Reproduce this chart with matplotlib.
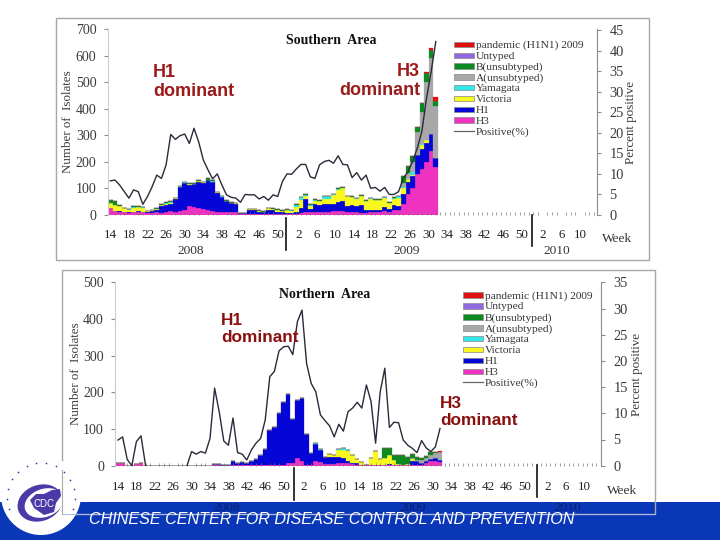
import numpy as np
import matplotlib
matplotlib.use("Agg")
import matplotlib.pyplot as plt
from matplotlib.patches import Rectangle, Circle, Ellipse, Polygon

plt.rcParams['font.family'] = ['Liberation Serif', 'DejaVu Sans']

series_names = ["H3", "H1", "Victoria", "Yamagata", "A(unsubtyped)", "B(unsubtyped)", "Untyped", "pandemic (H1N1) 2009"]
series_colors = ["#f032c0", "#0505d8", "#f8f820", "#30e8e8", "#a8a8a8", "#0c8a20", "#9068e0", "#e01010"]

# Southern area, one value per week from 2008 w14
s_h3 = [25,15,12,12,8,12,12,12,8,8,10,8,10,15,12,15,20,35,30,25,22,20,15,12,10,10,10,10,3,3,5,4,3,3,3,3,3,3,3,3,3,
        8,12,12,12,12,12,12,14,15,14,10,10,10,8,8,10,10,12,15,12,18,20,40,80,100,155,175,200,240,182]
s_h1 = [0,0,2,1,2,1,2,1,4,6,10,25,28,28,48,90,100,78,85,100,100,110,110,72,58,42,35,33,3,3,15,15,10,8,16,14,10,7,5,5,8,
        20,50,10,30,25,30,28,28,35,38,25,28,22,28,12,10,10,8,14,12,18,15,38,45,45,70,75,70,65,33]
s_vic = [22,22,18,12,10,15,15,15,2,3,2,3,4,4,3,2,2,3,2,2,1,2,1,1,1,1,1,1,0,0,2,2,3,2,6,5,5,5,10,8,18,
         28,10,12,12,15,20,22,32,45,48,35,30,30,36,32,42,38,38,36,22,26,30,25,10,5,0,15,12,0,0]
s_yam = [0,2,2,1,1,2,1,1,1,1,2,2,3,2,1,1,1,1,1,1,1,1,1,1,1,1,1,1,0,0,1,1,0,0,1,1,1,1,1,1,8,
         10,4,4,3,2,8,8,4,3,3,1,1,1,1,1,1,0,0,1,1,3,5,2,2,10,2,2,2,0,0]
s_a = [0]*63 + [15,20,40,85,120,215,285,195]
s_b = [8,13,2,1,1,2,2,1,1,2,3,3,5,3,1,2,3,4,2,2,2,5,3,1,2,1,1,1,0,0,1,1,2,1,2,2,2,1,2,1,3,
       3,2,2,3,2,2,2,2,2,2,1,2,2,2,2,2,2,2,2,3,3,3,25,28,22,18,33,35,30,20]
s_unt = [0]*71
s_pan = [0]*68 + [6,10,15]
s_pos = [8.3,8.5,7.3,5.7,4.1,6.1,5.7,2.6,4.5,6.9,9.7,8.9,12.2,19.6,18.4,19.3,19.7,17.4,21.1,17.8,13.4,11,8.8,10,7.3,4.9,4.3,4.1,
         3.1,5.0,4.9,4.9,3.9,4.5,3.6,4.9,4.5,8.1,10,9.9,11.2,12.3,12.3,9.3,8.9,12.2,13,13.3,12.6,14.4,12.3,12.2,9.1,10.3,8.5,9.7,
         6.5,6.7,5.8,6.7,5,5,5.7,8.9,10.5,13,16.2,20.3,28.4,34.9,42.2]

# Northern area
n_h3 = [6,7,0,0,5,6,0,0,0,0,0,0,0,0,0,0,0,0,0,0,0,1,1,0,0,1,1,1,1,1,1,1,1,1,1,2,3,8,8,20,14,3,2,14,10,5,4,5,6,8,6,4,3,1,1,
        1,1,1,1,3,2,1,1,1,2,3,3,6,14,14,10]
n_h1 = [0,0,0,0,0,0,0,0,0,0,0,0,0,0,0,0,0,0,0,0,0,4,4,3,2,11,7,8,7,12,17,27,44,96,104,143,172,187,119,160,171,84,33,46,34,18,20,18,18,12,8,4,3,2,1,
        1,0,0,1,1,1,1,0,1,12,10,5,6,5,8,6]
n_vic = [0,0,0,0,0,0,0,0,0,0,0,0,0,0,0,0,0,0,0,0,0,0,0,0,0,0,0,0,0,0,0,0,0,0,0,0,0,0,0,0,0,0,0,0,0,0,7,5,20,24,26,20,13,8,1,
         20,38,18,20,24,12,3,2,2,3,0,0,0,0,0,0]
n_yam = [0]*43 + [2,1,0,0,0,1,5,2,1] + [0]*19
n_a = [0]*64 + [3,3,7,9,10,12,20]
n_b = [0]*58 + [25,20,14,25,25,20,12,8,5,5,8,3,1]
n_unt = [0]*71
n_pan = [0]*70 + [2]
n_pos = [4.9,5.5,1.2,0,4.6,5.7,0,np.nan,np.nan,np.nan,np.nan,np.nan,np.nan,np.nan,np.nan,0,2.7,2.2,2.7,2.4,5.2,14.8,10.3,4.7,3.9,9.1,2.5,2.2,1.1,3,4.3,5.2,8.7,17,18,21.9,
         22.7,22.8,21.2,27.5,29.7,19.5,15.7,14.1,9.7,8.6,7.6,5.5,7.9,6.6,10.3,11,12.1,11,15.4,12.3,4.3,14.1,18.6,7.3,8.3,8.2,4.9,3.9,3.3,2.5,4.8,3.4,2.7,3.6,7.1]

week_2008 = list(range(14, 51, 4))
week_2009 = list(range(2, 51, 4))
week_2010 = [2, 6, 10]

W, H = 720, 540
fig = plt.figure(figsize=(W / 100, H / 100), dpi=100, facecolor="white")
GREY = "#8c8c8c"
TXT = "#3a3a3a"


def panel(box, step, first, ymax, pct_max, yticks, pct_ticks, stacks, pos, title, title_xy, offs, pads):
    left, top, right, bottom = box
    ax = fig.add_axes([left / W, 1 - bottom / H, (right - left) / W, (bottom - top) / H])
    ax.set_xlim((left - first) / step, (right - first) / step)
    ax.set_ylim(0, ymax)
    x = np.arange(71)
    base = np.zeros(71)
    for vals, name, col in zip(stacks, series_names, series_colors):
        v = np.array(vals, dtype=float)
        ax.bar(x, v, 1.0, bottom=base, color=col, edgecolor=col, linewidth=0.2)
        base += v
    for sp in ["top", "right"]:
        ax.spines[sp].set_visible(False)
    ax.spines["left"].set_color("#cccccc")
    ax.spines["bottom"].set_visible(False)
    ax.set_yticks(yticks)
    ax.tick_params(axis="y", length=3, color=GREY, labelcolor=TXT, labelsize=10, pad=5)
    ticks = [(w - 14) for w in week_2008] + [offs[0] + w - 2 for w in week_2009] + [offs[1] + w - 2 for w in week_2010]
    labels = week_2008 + week_2009 + week_2010
    ax.set_xticks(ticks)
    ax.set_xticklabels([str(v) for v in labels], fontsize=9.4, color="#222222")
    ax.tick_params(axis="x", length=0, pad=pads[0])
    ax.set_xticks(np.arange(0, 105), minor=True)
    ax.tick_params(axis="x", which="minor", length=2.5, direction="in", color="#777777", width=0.5)
    ax.set_ylabel("Number of  Isolates", fontsize=9.4, color=TXT, labelpad=pads[1])

    ax2 = ax.twinx()
    ax2.set_xlim(ax.get_xlim())
    ax2.set_ylim(0, pct_max)
    ax2.plot(x, pos, color="#2a2a3a", linewidth=1.0)
    for sp in ["top", "left", "bottom"]:
        ax2.spines[sp].set_visible(False)
    ax2.spines["right"].set_color(GREY)
    ax2.set_yticks(pct_ticks)
    ax2.tick_params(axis="y", length=3, color=GREY, labelcolor=TXT, labelsize=10.4, pad=6)
    ax2.set_ylabel("Percent positive", fontsize=9.4, color=TXT, labelpad=pads[2])

    ax.text((title_xy[0] - first) / step, ymax * (bottom - title_xy[1]) / (bottom - top), title,
            fontsize=10, fontweight="bold", color="#111111", ha="center", va="center")


south = [s_h3, s_h1, s_vic, s_yam, s_a, s_b, s_unt, s_pan]
north = [n_h3, n_h1, n_vic, n_yam, n_a, n_b, n_unt, n_pan]

panel((107.5, 29, 597, 215), 4.65, 110.3, 700, 45 * 186 / 185, range(0, 701, 100), range(0, 46, 5), south, s_pos,
      "Southern  Area", (331, 40), (40.4, 93), (10, 1, 1))
panel((115, 282.3, 601, 465.7), 4.6, 118, 500, 35, range(0, 501, 100), range(0, 36, 5), north, n_pos,
      "Northern  Area", (325, 294), (40.4, 93.3), (11, 1, 2))

# overlay in pixels: frames, banner, logo, notes
ov = fig.add_axes([0, 0, 1, 1], zorder=10)
ov.set_xlim(0, W)
ov.set_ylim(H, 0)
ov.axis("off")
ov.patch.set_alpha(0)


def key(x0, y0, dy):
    rows = list(zip(series_names, series_colors))[::-1]
    for i, (name, col) in enumerate(rows):
        yy = y0 + i * dy
        ov.add_patch(Rectangle((x0, yy - 2.8), 20, 5.6, facecolor=col, edgecolor="#888888", linewidth=0.5))
        ov.text(x0 + 22, yy, name, fontsize=8.2, color="#333333", ha="left", va="center_baseline")
    yy = y0 + 8 * dy
    ov.plot([x0, x0 + 20], [yy, yy], color="#666666", linewidth=0.9)
    ov.text(x0 + 22, yy, "Positive(%)", fontsize=8.2, color="#333333", ha="left", va="center_baseline")


key(454, 44.5, 10.8)
key(463, 295, 10.9)

ov.add_patch(Rectangle((56, 18), 593, 242, fill=False, edgecolor="#a8a8a8", linewidth=1.0))
ov.add_patch(Rectangle((0, 502), 720, 38, facecolor="#0a37b8", edgecolor="none"))
ov.add_patch(Rectangle((62, 270), 593, 244, fill=False, edgecolor="#a8a8a8", linewidth=1.0))
ov.plot([62, 655], [513.5, 513.5], color="#a8b8e8", linewidth=0.7)

for xv, y0, y1 in [(286, 218, 250), (532, 215, 246), (294, 468, 500), (537, 465, 497)]:
    ov.plot([xv, xv], [y0, y1], color="#111111", linewidth=1.2)

for xv, yv, s in [(191, 251, "2008"), (407, 251, "2009"), (557, 251, "2010")]:
    ov.text(xv, yv, s, fontsize=9.6, color="#333333", ha="center", va="center")
for xv, yv, s in [(227, 508, "2008"), (413, 508, "2009"), (568, 508, "2010")]:
    ov.text(xv, yv, s, fontsize=9.6, color="#0a1f66", ha="center", va="center")
ov.text(617, 239, "Week", fontsize=9.6, color="#333333", ha="center", va="center")
ov.text(622, 491, "Week", fontsize=9.6, color="#333333", ha="center", va="center")

RED = "#9c1a1a"
note = dict(family="Liberation Sans", fontsize=13, fontweight="bold", color=RED, va="center", linespacing=1.1)
ov.text(153, 82, "H1\ndominant", ha="left", **note)
ov.text(420, 81, "H3\ndominant", ha="right", multialignment="right", **note)
note["color"] = "#8a1010"
note["fontsize"] = 12.4
ov.text(221, 329, "H1\ndominant", ha="left", **note)
ov.text(440, 412, "H3\ndominant", ha="left", **note)

ov.text(89, 520, "CHINESE CENTER FOR DISEASE CONTROL AND PREVENTION", family="Liberation Sans", style="italic",
        fontsize=11.6, color="white", ha="left", va="center")

# logo
ov.add_patch(Circle((41, 495), 40, facecolor="white", edgecolor="none"))
ov.plot([62, 62], [470, 514], color="#a8a8a8", linewidth=0.8)
ov.add_patch(Ellipse((40, 503), 46, 36, angle=-20, facecolor="#4a3aa8", edgecolor="none"))
ov.add_patch(Ellipse((44, 503), 40, 28, angle=-20, facecolor="white", edgecolor="none"))
ov.add_patch(Polygon([(30, 500), (36, 494), (44, 494), (52, 490), (60, 489), (61, 496), (56, 503), (54, 512), (44, 515), (34, 508)],
                     facecolor="#4a3aa8", edgecolor="none"))
ov.text(44, 504, "CDC", family="Liberation Sans", fontsize=7, color="white", ha="center", va="center")
ang = np.deg2rad(np.arange(-200, 30, 17))
ov.scatter(41 + 34 * np.cos(ang), 497 + 34 * np.sin(ang), s=1.6, color="#4a3aa8", linewidths=0)

fig.savefig("out.png", dpi=100)
